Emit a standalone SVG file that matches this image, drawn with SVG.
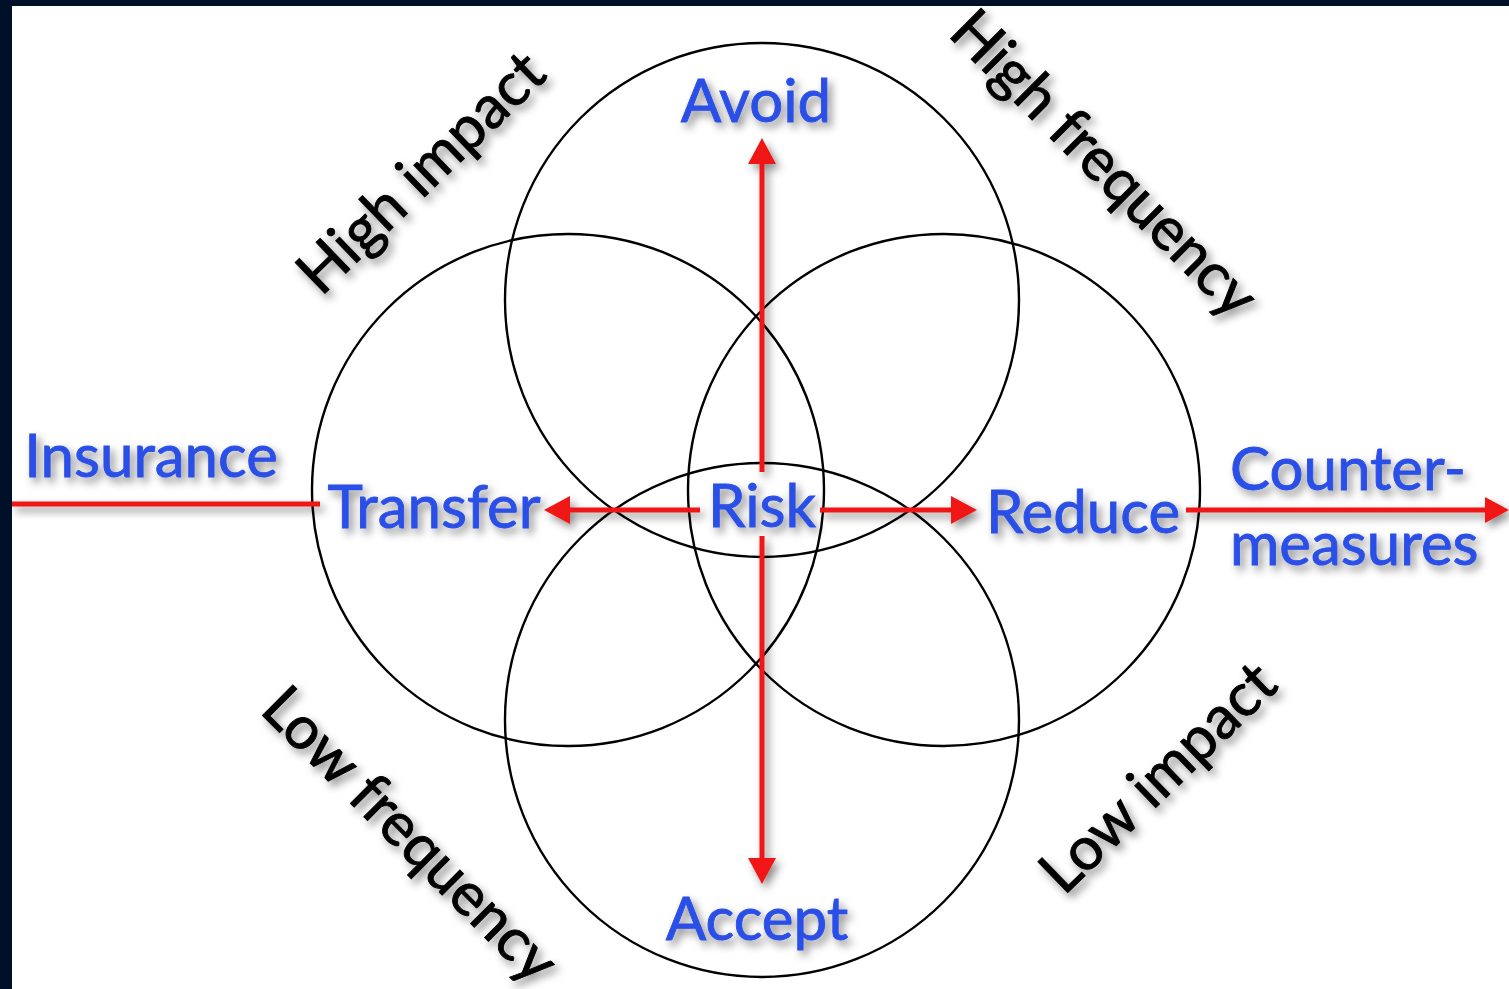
<svg xmlns="http://www.w3.org/2000/svg" width="1509" height="989" viewBox="0 0 1509 989">
<defs>
<style>
.c{fill:none;stroke:#000;stroke-width:2.4}
.ln{stroke:#f01818;stroke-width:5;fill:none}
.hd{fill:#f01818}
.b{font-family:Lato,"Open Sans",sans-serif;font-size:60px;fill:#2c4fe6;stroke:#2c4fe6;stroke-width:0.9}
.k{font-family:Lato,"Open Sans",sans-serif;font-size:60px;fill:#000;stroke:#000;stroke-width:0.9}
</style>
<filter id="sh" x="-20%" y="-20%" width="140%" height="140%">
<feDropShadow dx="4" dy="5" stdDeviation="4" flood-color="#000" flood-opacity="0.45"/>
</filter>
</defs>
<rect x="0" y="0" width="1509" height="989" fill="#fff"/>
<rect x="0" y="0" width="1509" height="6" fill="#001028"/>
<rect x="0" y="0" width="12" height="989" fill="#001028"/>
<g id="circles">
<circle class="c" cx="762" cy="300" r="257"/>
<circle class="c" cx="762" cy="720" r="257"/>
<circle class="c" cx="568" cy="490" r="256"/>
<circle class="c" cx="944" cy="490" r="256"/>
</g>
<g id="connectors" filter="url(#sh)">
<line class="ln" x1="762" y1="160" x2="762" y2="472"/>
<polygon class="hd" points="762,138 776,164 748,164"/>
<line class="ln" x1="762" y1="536" x2="762" y2="860"/>
<polygon class="hd" points="762,884 776,858 748,858"/>
<line class="ln" x1="568" y1="510" x2="700" y2="510"/>
<polygon class="hd" points="544,510 570,496 570,524"/>
<line class="ln" x1="820" y1="510" x2="952" y2="510"/>
<polygon class="hd" points="977,510 951,496 951,524"/>
<line class="ln" x1="12" y1="504" x2="320" y2="504"/>
<line class="ln" x1="1186" y1="510" x2="1486" y2="510"/>
<polygon class="hd" points="1509,510 1485,497 1485,523"/>
</g>
<g id="risk" filter="url(#sh)"><text class="b" x="762" y="527" text-anchor="middle">Risk</text></g>
<g id="avoid" filter="url(#sh)"><text class="b" x="756" y="122" text-anchor="middle">Avoid</text></g>
<g id="accept" filter="url(#sh)"><text class="b" x="757" y="940" text-anchor="middle">Accept</text></g>
<g id="transfer" filter="url(#sh)"><text class="b" x="434" y="528" text-anchor="middle">Transfer</text></g>
<g id="reduce" filter="url(#sh)"><text class="b" x="1083" y="533" text-anchor="middle">Reduce</text></g>
<g id="insurance" filter="url(#sh)"><text class="b" x="151" y="477" text-anchor="middle">Insurance</text></g>
<g id="countermeasures" filter="url(#sh)"><text class="b" x="1230" y="490">Counter-</text><text class="b" x="1230" y="565">measures</text></g>
<g id="high-impact" filter="url(#sh)"><text class="k" text-anchor="middle" transform="translate(435,187) rotate(-44)">High impact</text></g>
<g id="high-frequency" filter="url(#sh)"><text class="k" text-anchor="middle" transform="translate(1090,178) rotate(45)">High frequency</text></g>
<g id="low-frequency" filter="url(#sh)"><text class="k" text-anchor="middle" transform="translate(396,849) rotate(45)">Low frequency</text></g>
<g id="low-impact" filter="url(#sh)"><text class="k" text-anchor="middle" transform="translate(1172,792) rotate(-44)">Low impact</text></g>
</svg>
